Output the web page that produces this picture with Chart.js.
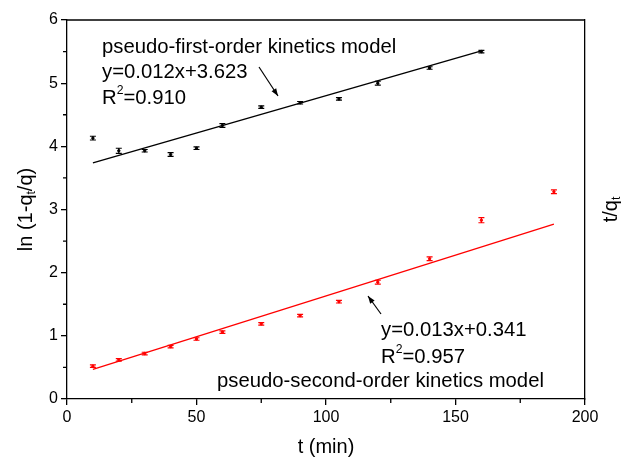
<!DOCTYPE html>
<html><head><meta charset="utf-8">
<script src="https://cdn.jsdelivr.net/npm/chart.js@4"></script>
<style>html,body{margin:0;padding:0;background:#fff}canvas{display:block}</style>
</head><body>
<canvas id="c" width="624" height="460"></canvas>
<script>
// ---- data ----
const times1 = [10, 20, 30, 40, 50, 60, 75, 90, 105, 120, 140, 160];
const firstOrder = [4.13, 3.93, 3.93, 3.87, 3.97, 4.33, 4.62, 4.69, 4.75, 5.00, 5.24, 5.50];
const firstOrderErr = [0.03, 0.04, 0.02, 0.03, 0.02, 0.03, 0.02, 0.02, 0.02, 0.03, 0.02, 0.02];
const times2 = [10, 20, 30, 40, 50, 60, 75, 90, 105, 120, 140, 160, 188];
const secondOrder = [0.52, 0.62, 0.72, 0.83, 0.95, 1.06, 1.19, 1.32, 1.54, 1.85, 2.22, 2.83, 3.28];
const secondOrderErr = [0.02, 0.02, 0.02, 0.02, 0.02, 0.02, 0.02, 0.02, 0.02, 0.03, 0.03, 0.04, 0.03];
const fit1X = [10, 160];
const fit1Y = [3.74, 5.51];
const fit2X = [10, 188];
const fit2Y = [0.47, 2.77];
const xTicks = [0, 50, 100, 150, 200];
const xMinorTicks = [25, 75, 125, 175];
const yTicks = [0, 1, 2, 3, 4, 5, 6];
const yMinorTicks = [0.5, 1.5, 2.5, 3.5, 4.5, 5.5];

const FONT = '"Liberation Sans", Arial, sans-serif';
const toPts = (xs, ys) => xs.map((x, i) => ({x: x, y: ys[i]}));

const errorBars = {
  id: 'errorBars',
  afterDatasetsDraw(chart) {
    const ctx = chart.ctx, xs = chart.scales.x, ys = chart.scales.y;
    chart.data.datasets.forEach(ds => {
      if (!ds.errors) return;
      ctx.save();
      ctx.strokeStyle = ds.borderColor;
      ctx.lineWidth = 1.2;
      ds.data.forEach((p, i) => {
        const px = xs.getPixelForValue(p.x);
        const y1 = ys.getPixelForValue(p.y + ds.errors[i]);
        const y2 = ys.getPixelForValue(p.y - ds.errors[i]);
        ctx.beginPath();
        ctx.moveTo(px, y1); ctx.lineTo(px, y2);
        ctx.moveTo(px - 3, y1); ctx.lineTo(px + 3, y1);
        ctx.moveTo(px - 3, y2); ctx.lineTo(px + 3, y2);
        ctx.stroke();
      });
      ctx.restore();
    });
  }
};

function richText(ctx, parts, x, y, size) {
  let cx = x;
  parts.forEach(([t, m]) => {
    const s = m === 0 ? size : size * 0.6;
    ctx.font = s + 'px ' + FONT;
    const dy = m === 1 ? -size * 0.35 : (m === -1 ? size * 0.3 : 0);
    ctx.fillText(t, cx, y + dy);
    cx += ctx.measureText(t).width;
  });
  return cx - x;
}
function richWidth(ctx, parts, size) {
  let w = 0;
  parts.forEach(([t, m]) => {
    ctx.font = (m === 0 ? size : size * 0.6) + 'px ' + FONT;
    w += ctx.measureText(t).width;
  });
  return w;
}

function arrow(ctx, x1, y1, x2, y2) {
  ctx.beginPath();
  ctx.moveTo(x1, y1); ctx.lineTo(x2, y2); ctx.stroke();
  const a = Math.atan2(y2 - y1, x2 - x1), L = 8, w = 0.35;
  ctx.beginPath();
  ctx.moveTo(x2, y2);
  ctx.lineTo(x2 - L * Math.cos(a - w), y2 - L * Math.sin(a - w));
  ctx.lineTo(x2 - L * Math.cos(a + w), y2 - L * Math.sin(a + w));
  ctx.closePath(); ctx.fill();
}

const decorations = {
  id: 'decorations',
  afterDraw(chart) {
    const ctx = chart.ctx, a = chart.chartArea;
    const xs = chart.scales.x, ys = chart.scales.y;
    ctx.save();
    ctx.strokeStyle = '#000'; ctx.fillStyle = '#000'; ctx.lineWidth = 1.3;
    ctx.beginPath(); ctx.moveTo(a.left, a.top); ctx.lineTo(a.right, a.top); ctx.stroke();
    ctx.beginPath();
    xMinorTicks.forEach(v => { const p = xs.getPixelForValue(v); ctx.moveTo(p, a.bottom); ctx.lineTo(p, a.bottom + 4); });
    yMinorTicks.forEach(v => { const p = ys.getPixelForValue(v); ctx.moveTo(a.left, p); ctx.lineTo(a.left - 4, p); });
    ctx.stroke();
    ctx.textBaseline = 'middle';
    ctx.textAlign = 'left';
    const tsz = 20;
    const xt = [['t (min)', 0]];
    richText(ctx, xt, (a.left + a.right) / 2 - richWidth(ctx, xt, tsz) / 2, 447, tsz);
    const yt = [['ln (1-q', 0], ['t', -1], ['/q)', 0]];
    ctx.save(); ctx.translate(26, (a.top + a.bottom) / 2); ctx.rotate(-Math.PI / 2);
    richText(ctx, yt, -richWidth(ctx, yt, tsz) / 2, 0, tsz);
    ctx.restore();
    const y2t = [['t/q', 0], ['t', -1]];
    ctx.save(); ctx.translate(611, (a.top + a.bottom) / 2); ctx.rotate(-Math.PI / 2);
    richText(ctx, y2t, -richWidth(ctx, y2t, tsz) / 2, 0, tsz);
    ctx.restore();
    const asz = 20.3;
    richText(ctx, [['pseudo-first-order kinetics model', 0]], 102, 47, asz);
    richText(ctx, [['y=0.012x+3.623', 0]], 102, 72.5, asz);
    richText(ctx, [['R', 0], ['2', 1], ['=0.910', 0]], 102, 98, asz);
    richText(ctx, [['y=0.013x+0.341', 0]], 381, 330, asz);
    richText(ctx, [['R', 0], ['2', 1], ['=0.957', 0]], 381, 357, asz);
    richText(ctx, [['pseudo-second-order kinetics model', 0]], 217, 381, asz);
    ctx.lineWidth = 1.2;
    arrow(ctx, 259, 67, 278, 96);
    arrow(ctx, 381, 314, 368, 296);
    ctx.restore();
  }
};

new Chart(document.getElementById('c'), {
  type: 'scatter',
  data: {
    datasets: [
      {data: toPts(fit1X, fit1Y), showLine: true, borderColor: '#000', borderWidth: 1.3, pointRadius: 0, fill: false},
      {data: toPts(fit2X, fit2Y), showLine: true, borderColor: '#ff0000', borderWidth: 1.3, pointRadius: 0, fill: false},
      {data: toPts(times1, firstOrder), errors: firstOrderErr, borderColor: '#000', backgroundColor: '#000', pointRadius: 1.2, showLine: false},
      {data: toPts(times2, secondOrder), errors: secondOrderErr, borderColor: '#ff0000', backgroundColor: '#ff0000', pointRadius: 1.2, showLine: false}
    ]
  },
  options: {
    responsive: false,
    animation: false,
    layout: {padding: {top: 20, left: 0, right: 0, bottom: 0}},
    plugins: {legend: {display: false}, tooltip: {enabled: false}},
    scales: {
      x: {
        type: 'linear', min: 0, max: 200,
        afterBuildTicks: s => { s.ticks = xTicks.map(v => ({value: v})); },
        afterFit: s => { s.height = 61; },
        ticks: {color: '#000', font: {family: FONT, size: 16}, padding: 3, maxRotation: 0},
        grid: {drawOnChartArea: false, drawTicks: true, tickLength: 6, tickColor: '#000', lineWidth: 1.3},
        border: {color: '#000', width: 1.3}
      },
      y: {
        type: 'linear', min: 0, max: 6,
        afterBuildTicks: s => { s.ticks = yTicks.map(v => ({value: v})); },
        afterFit: s => { s.width = 67; },
        ticks: {color: '#000', font: {family: FONT, size: 16}, padding: 3},
        grid: {drawOnChartArea: false, drawTicks: true, tickLength: 6, tickColor: '#000', lineWidth: 1.3},
        border: {color: '#000', width: 1.3}
      },
      y2: {
        type: 'linear', position: 'right', min: 0, max: 6,
        afterFit: s => { s.width = 39; },
        ticks: {display: false},
        grid: {display: false, drawTicks: false},
        border: {display: true, color: '#000', width: 1.3}
      }
    }
  },
  plugins: [errorBars, decorations]
});
</script>
</body></html>
